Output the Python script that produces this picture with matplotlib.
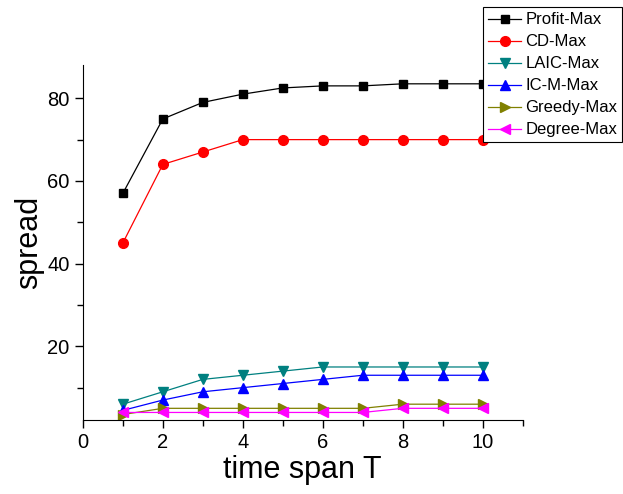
import matplotlib
matplotlib.use("Agg")
import matplotlib.pyplot as plt
from matplotlib.ticker import MultipleLocator

plt.rcParams['font.family'] = ['Liberation Sans', 'DejaVu Sans']

T = [1, 2, 3, 4, 5, 6, 7, 8, 9, 10]
profit_max = [57, 75, 79, 81, 82.5, 83, 83, 83.5, 83.5, 83.5]
cd_max = [45, 64, 67, 70, 70, 70, 70, 70, 70, 70]
laic_max = [6, 9, 12, 13, 14, 15, 15, 15, 15, 15]
icm_max = [4.5, 7, 9, 10, 11, 12, 13, 13, 13, 13]
greedy_max = [3.5, 5, 5, 5, 5, 5, 5, 6, 6, 6]
degree_max = [4, 4, 4, 4, 4, 4, 4, 5, 5, 5]

series = [
    ("Profit-Max", profit_max, "black", "s", 5.5),
    ("CD-Max", cd_max, "red", "o", 7),
    ("LAIC-Max", laic_max, "#008080", "v", 7),
    ("IC-M-Max", icm_max, "blue", "^", 7),
    ("Greedy-Max", greedy_max, "#808000", ">", 7),
    ("Degree-Max", degree_max, "magenta", "<", 7),
]

fig = plt.figure(figsize=(6.23, 4.94), dpi=100)
ax = fig.add_axes([0.133, 0.150, 0.706, 0.718])

for name, vals, col, mk, ms in series:
    ax.plot(T, vals, color=col, marker=mk, markersize=ms, linewidth=0.9, label=name)

ax.set_xlim(0, 11)
ax.set_ylim(2.2, 88)
ax.xaxis.set_major_locator(MultipleLocator(2))
ax.xaxis.set_minor_locator(MultipleLocator(1))
ax.yaxis.set_major_locator(MultipleLocator(20))
ax.yaxis.set_minor_locator(MultipleLocator(10))
ax.tick_params(which='both', direction='out', labelsize=14.5, width=1)
ax.tick_params(which='major', length=6)
ax.tick_params(which='minor', length=4)
for s in ['top', 'right']:
    ax.spines[s].set_visible(False)

ax.set_xlabel("time span T", fontsize=22, labelpad=2)
ax.set_ylabel("spread", fontsize=22, labelpad=2)

leg = fig.legend(loc='upper right', bbox_to_anchor=(0.999, 0.985), fontsize=12,
                 fancybox=False, framealpha=1, edgecolor='black', borderaxespad=0,
                 handlelength=2.0, labelspacing=0.42, borderpad=0.3, handletextpad=0.25)
leg.get_frame().set_linewidth(0.8)

fig.savefig("out.png", dpi=100)
